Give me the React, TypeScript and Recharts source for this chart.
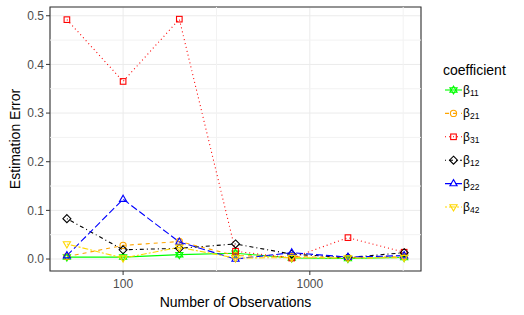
import { CartesianGrid, Label, Legend, Line, LineChart, ReferenceArea, ReferenceLine, XAxis, YAxis } from "recharts"

const observations = [50, 100, 200, 400, 800, 1600, 3200]
const beta11 = [0.004, 0.004, 0.009, 0.012, 0.002, 0.001, 0.003]
const beta21 = [0.005, 0.028, 0.036, 0.007, 0.005, 0.003, 0.005]
const beta31 = [0.492, 0.365, 0.493, 0.016, 0.002, 0.044, 0.014]
const beta12 = [0.083, 0.019, 0.022, 0.031, 0.01, 0.003, 0.013]
const beta22 = [0.007, 0.123, 0.035, 0.0, 0.013, 0.004, 0.007]
const beta42 = [0.031, 0.002, 0.024, 0.002, 0.003, 0.002, 0.003]

const xTicks = [100, 1000]
const xMinor = [316.2, 3162]
const yTicks = [0, 0.1, 0.2, 0.3, 0.4, 0.5]
const yMinor = [0.05, 0.15, 0.25, 0.35, 0.45]

const xDomain = [40.6, 3938]
const yDomain = [-0.0246, 0.518]

const font = "'Liberation Sans', Arial, sans-serif"

type Shape = "star" | "circle" | "square" | "diamond" | "up" | "down"

const series: { key: string; sub: string; values: number[]; color: string; dash?: string; shape: Shape }[] = [
  { key: "b11", sub: "11", values: beta11, color: "#00ff00", shape: "star" },
  { key: "b21", sub: "21", values: beta21, color: "#ffa500", dash: "4 4", shape: "circle" },
  { key: "b31", sub: "31", values: beta31, color: "#ff0000", dash: "1 3", shape: "square" },
  { key: "b12", sub: "12", values: beta12, color: "#000000", dash: "1 3 4 3", shape: "diamond" },
  { key: "b22", sub: "22", values: beta22, color: "#0000ff", dash: "7 3", shape: "up" },
  { key: "b42", sub: "42", values: beta42, color: "#ffd700", dash: "2 2 6 2", shape: "down" },
]

const data = observations.map((n, i) => {
  const row: Record<string, number> = { n }
  series.forEach((s) => (row[s.key] = s.values[i]))
  return row
})

function Marker({ shape, x, y, color }: { shape: Shape; x: number; y: number; color: string }) {
  const common = { fill: "none", stroke: color, strokeWidth: 1.1 }
  const up = `${x},${y - 4} ${x + 3.6},${y + 2.2} ${x - 3.6},${y + 2.2}`
  const down = `${x},${y + 4} ${x + 3.6},${y - 2.2} ${x - 3.6},${y - 2.2}`
  switch (shape) {
    case "square":
      return <rect x={x - 2.8} y={y - 2.8} width={5.6} height={5.6} {...common} />
    case "circle":
      return <circle cx={x} cy={y} r={3.1} {...common} />
    case "diamond":
      return <polygon points={`${x},${y - 4} ${x + 4},${y} ${x},${y + 4} ${x - 4},${y}`} {...common} />
    case "up":
      return <polygon points={up} {...common} />
    case "down":
      return <polygon points={down} {...common} />
    default:
      return (
        <g>
          <polygon points={up} {...common} />
          <polygon points={down} {...common} />
        </g>
      )
  }
}

function LegendBox() {
  return (
    <svg width={84} height={170} style={{ fontFamily: font }}>
      <text x={3} y={19.5} fontSize={14} fill="#000">
        coefficient
      </text>
      {series.map((s, i) => {
        const cy = 35 + i * 23.4
        return (
          <g key={s.key}>
            <line x1={5} x2={22} y1={cy} y2={cy} stroke={s.color} strokeWidth={1.1} strokeDasharray={s.dash} />
            <Marker shape={s.shape} x={13.5} y={cy} color={s.color} />
            <text x={23} y={cy + 4} fontSize={12} fill="#000">
              β
              <tspan fontSize={8.5} dy={2}>
                {s.sub}
              </tspan>
            </text>
          </g>
        )
      })}
    </svg>
  )
}

export default function App() {
  return (
    <div style={{ position: "absolute", left: 0, top: 0, fontFamily: font }}>
      <LineChart width={524} height={315} data={data} margin={{ top: 7, right: 103, left: 0, bottom: 0 }}>
        <CartesianGrid stroke="#ebebeb" />
        {yMinor.map((v) => (
          <ReferenceLine key={`y${v}`} y={v} stroke="#f2f2f2" />
        ))}
        {xMinor.map((v) => (
          <ReferenceLine key={`x${v}`} x={v} stroke="#f2f2f2" />
        ))}
        <XAxis
          dataKey="n"
          type="number"
          scale="log"
          domain={xDomain}
          allowDataOverflow
          ticks={xTicks}
          height={44}
          axisLine={false}
          tickSize={4}
          tickMargin={4}
          tickLine={{ stroke: "#333333" }}
          tick={{ fill: "#4d4d4d", fontSize: 12, fontFamily: font }}
        >
          <Label value="Number of Observations" position="insideBottom" offset={8} fontSize={14} fill="#000" fontFamily={font} />
        </XAxis>
        <YAxis
          type="number"
          domain={yDomain}
          allowDataOverflow
          ticks={yTicks}
          width={50}
          axisLine={false}
          tickSize={4}
          tickMargin={2}
          tickLine={{ stroke: "#333333" }}
          tick={{ fill: "#4d4d4d", fontSize: 12, fontFamily: font }}
          tickFormatter={(v: number) => v.toFixed(1)}
        >
          <Label
            value="Estimation Error"
            position="insideLeft"
            angle={-90}
            offset={15}
            fontSize={14}
            fill="#000"
            fontFamily={font}
            style={{ textAnchor: "middle" }}
          />
        </YAxis>
        <ReferenceArea
          x1={xDomain[0]}
          x2={xDomain[1]}
          y1={yDomain[0]}
          y2={yDomain[1]}
          fill="none"
          stroke="#333333"
          strokeWidth={1.1}
          ifOverflow="visible"
        />
        {series.map((s) => (
          <Line
            key={s.key}
            dataKey={s.key}
            type="linear"
            stroke={s.color}
            strokeWidth={1.1}
            strokeDasharray={s.dash}
            dot={false}
            activeDot={false}
            legendType="none"
            isAnimationActive={false}
          />
        ))}
        {series.map((s) => (
          <Line
            key={`${s.key}-pts`}
            dataKey={s.key}
            stroke="none"
            legendType="none"
            activeDot={false}
            dot={(p: any) => <Marker key={`${s.key}-${p.index}`} shape={s.shape} x={p.cx} y={p.cy} color={s.color} />}
            isAnimationActive={false}
          />
        ))}
        <Legend
          layout="vertical"
          align="center"
          verticalAlign="middle"
          wrapperStyle={{ left: 440, top: 55, width: 84, height: 170 }}
          content={() => <LegendBox />}
        />
      </LineChart>
    </div>
  )
}
